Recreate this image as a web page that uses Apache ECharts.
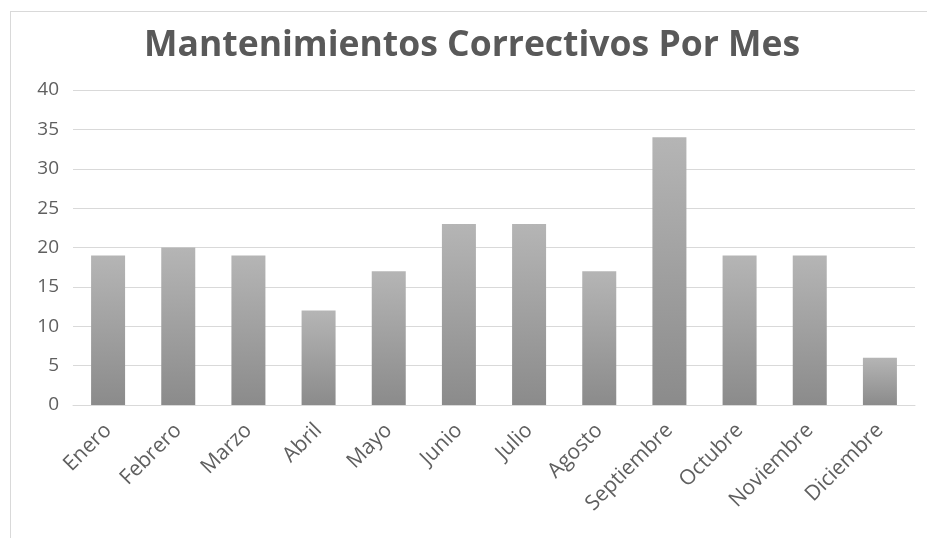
<!DOCTYPE html>
<html><head><meta charset="utf-8">
<script src="https://cdn.jsdelivr.net/npm/echarts@6/dist/echarts.min.js"></script>
<style>html,body{margin:0;padding:0;background:#fff}#c{width:927px;height:538px}
#b{position:absolute;left:10px;top:11px;width:940px;height:560px;border:1px solid #d9d9d9}</style>
</head><body><div id="b"></div><div id="c" style="position:absolute;left:0;top:0"></div>
<script>
var titleText = 'Mantenimientos Correctivos Por Mes';
var categories = ['Enero','Febrero','Marzo','Abril','Mayo','Junio','Julio','Agosto','Septiembre','Octubre','Noviembre','Diciembre'];
var values = [19,20,19,12,17,23,23,17,34,19,19,6];
var chart = echarts.init(document.getElementById('c'));
chart.setOption({
  animation:false,
  title:{text:titleText,left:139,top:23,textStyle:{fontFamily:'Open Sans',fontWeight:'bold',fontSize:35.5,color:'#595959'}},
  grid:{left:73,right:12,top:90,bottom:133},
  xAxis:{type:'category',data:categories,axisTick:{show:false},axisLine:{lineStyle:{color:'#d9d9d9'}},
    axisLabel:{rotate:45,color:'#5f5f5f',fontFamily:'Open Sans',fontSize:21,margin:22,interval:0}},
  yAxis:{type:'value',min:0,max:40,interval:5,axisLabel:{color:'#5f5f5f',fontFamily:'Open Sans',fontSize:19,margin:14},
    splitLine:{lineStyle:{color:'#d9d9d9'}}},
  series:[{type:'bar',data:values,barWidth:34,
    itemStyle:{color:new echarts.graphic.LinearGradient(0,0,0,1,[{offset:0,color:'#b5b5b5'},{offset:1,color:'#8b8b8b'}])}}]
});
</script></body></html>
